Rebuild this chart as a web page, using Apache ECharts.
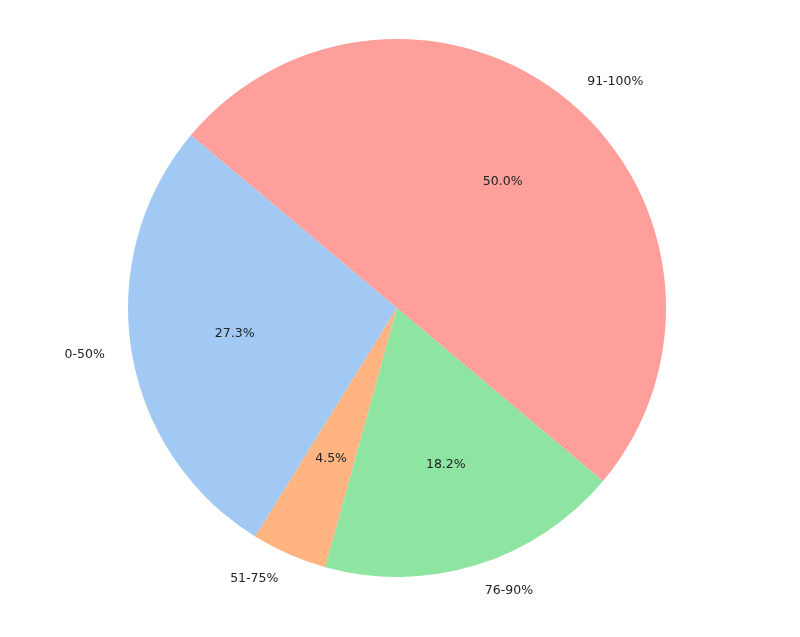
<!DOCTYPE html>
<html>
<head>
<meta charset="utf-8">
<script src="https://cdn.jsdelivr.net/npm/echarts@6/dist/echarts.min.js"></script>
<style>html,body{margin:0;padding:0;background:#fff;}#c{width:800px;height:637px;}</style>
</head>
<body>
<div id="c"></div>
<script>
const categories = ['0-50%', '51-75%', '76-90%', '91-100%'];
const values = [6, 1, 4, 11];
const colors = ['#a1c9f4', '#ffb482', '#8de5a1', '#ff9f9b'];
const startAngle = 140;

const chart = echarts.init(document.getElementById('c'));
const total = values.reduce((a, b) => a + b, 0);
const R = 269;
const center = [397, 308];
const font = { fontFamily: 'DejaVu Sans', fontSize: 12.5, color: '#222' };

chart.setOption({
  animation: false,
  series: [
    {
      type: 'pie', center: center, radius: [0, R],
      startAngle: startAngle, clockwise: false, silent: true,
      avoidLabelOverlap: false,
      data: categories.map((n, i) => ({ name: n, value: values[i], itemStyle: { color: colors[i] } })),
      label: Object.assign({ show: true, position: 'outside', formatter: '{b}', distanceToLabelLine: 0 }, font),
      labelLine: { show: false, length: R * 0.1, length2: 0 }
    },
    {
      type: 'pie', center: center, radius: [0, R * 1.2],
      startAngle: startAngle, clockwise: false, silent: true,
      itemStyle: { color: 'rgba(0,0,0,0)' },
      data: categories.map((n, i) => ({ name: n, value: values[i] })),
      label: Object.assign({ show: true, position: 'inside',
        formatter: p => (p.value / total * 100).toFixed(1) + '%' }, font),
      labelLine: { show: false }
    }
  ]
});
</script>
</body>
</html>
